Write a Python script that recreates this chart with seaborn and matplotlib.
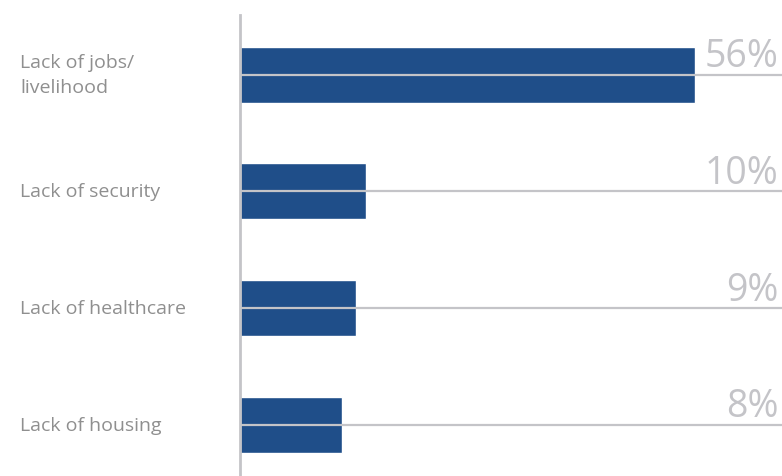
import numpy as np
import pandas as pd
import seaborn as sns
import matplotlib.pyplot as plt
import matplotlib.transforms as mtransforms

# 데이터
categories = ["Lack of jobs/\nlivelihood", "Lack of security", "Lack of healthcare", "Lack of housing"]
bar_lengths = [56, 15.5, 14.3, 12.6]   # 그림에서 읽은 막대 길이
pct_labels = ["56%", "10%", "9%", "8%"]

df = pd.DataFrame({"category": categories, "value": bar_lengths})

sns.set_style("white")
plt.rcParams["font.family"] = ["Open Sans", "DejaVu Sans"]

bar_color = "#1F4E89"
line_color = "#C4C4C8"
text_color = "#8F8F8F"

fig = plt.figure(figsize=(7.82, 4.77), dpi=100)
ax = fig.add_axes([240 / 782, 0, 542 / 782, 461 / 477])

sns.barplot(data=df, x="value", y="category", orient="h", color=bar_color,
            width=0.48, saturation=1, ax=ax)

xmax = 542 / (455 / 56)
ax.set_xlim(0, xmax)
ax.set_ylim(3.44, -0.51)

# 막대 가운데를 지나는 회색 선
ax.hlines(np.arange(len(categories)), 0, xmax, color=line_color, lw=1.6, zorder=5)

# 퍼센트 라벨
for i, lab in enumerate(pct_labels):
    ax.annotate(lab, xy=(0.993, i), xycoords=("axes fraction", "data"),
                xytext=(0, 6), textcoords="offset points",
                ha="right", va="baseline", fontsize=27, color=line_color)

# 카테고리 라벨 (왼쪽 정렬)
trans = mtransforms.blended_transform_factory(fig.transFigure, ax.transData)
for i, cat in enumerate(categories):
    ax.text(20 / 782, i, cat, transform=trans, ha="left", va="center",
            fontsize=14, color=text_color, linespacing=1.55)

ax.set_xlabel("")
ax.set_ylabel("")
ax.set_xticks([])
ax.set_yticks([])
for s in ["top", "right", "bottom"]:
    ax.spines[s].set_visible(False)
ax.spines["left"].set_color(line_color)
ax.spines["left"].set_linewidth(2)

fig.savefig("out.png", dpi=100)
